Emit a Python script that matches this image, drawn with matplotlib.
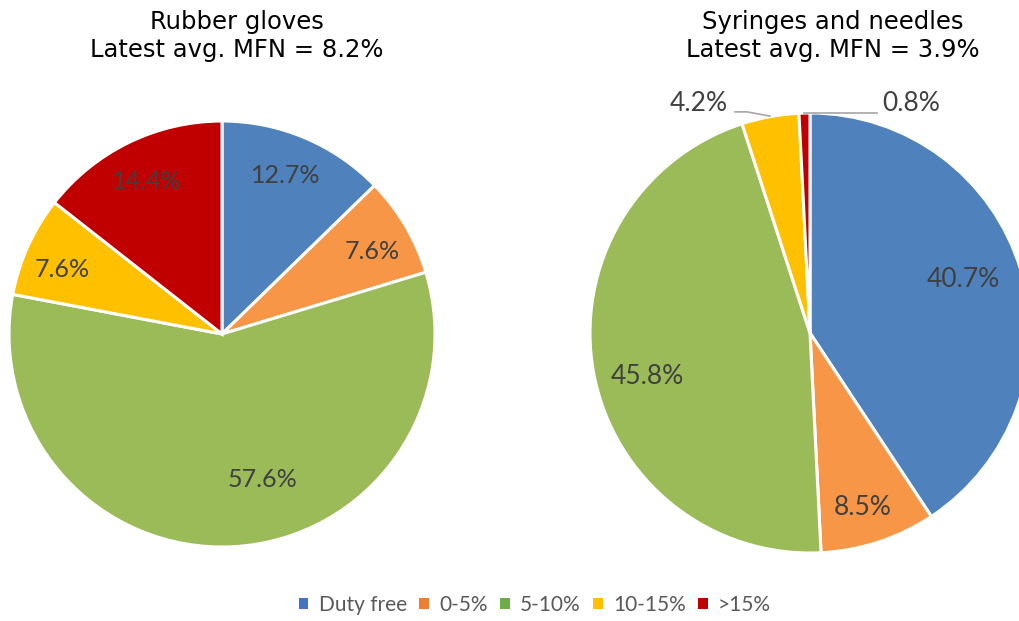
import matplotlib.pyplot as plt
from matplotlib.patches import Patch

categories = ['Duty free', '0-5%', '5-10%', '10-15%', '>15%']
gloves = [12.7, 7.6, 57.6, 7.6, 14.4]
syringes = [40.7, 8.5, 45.8, 4.2, 0.8]
titles = ['Rubber gloves\nLatest avg. MFN = 8.2%',
          'Syringes and needles\nLatest avg. MFN = 3.9%']

pie_colors = ['#4F81BD', '#F79646', '#9BBB59', '#FFC000', '#C00000']
legend_colors = ['#4472C4', '#ED7D31', '#70AD47', '#FFC000', '#C00000']
label_font = 'Lato'
text_gray = '#404040'

# label positions (in units of pie radius), as placed in the original
gloves_pos = [(0.300, 0.745), (0.706, 0.387), (0.188, -0.685), (-0.751, 0.305), (-0.353, 0.714)]
syringes_pos = [(0.698, 0.243), (0.241, -0.795), (-0.741, -0.199), (-0.505, 1.045), (0.459, 1.045)]

W, H = 1020, 621
fig = plt.figure(figsize=(W / 100, H / 100), dpi=100)


def px_axes(cx, cy, r):
    return fig.add_axes([(cx - r) / W, (H - cy - r) / H, 2 * r / W, 2 * r / H])


def draw_pie(ax, values, positions, fsize):
    ax.pie(values, colors=pie_colors, startangle=90, counterclock=False,
           wedgeprops=dict(edgecolor='white', linewidth=2.2))
    ax.set_xlim(-1, 1)
    ax.set_ylim(-1, 1)
    ax.set_aspect('equal')
    ax.axis('off')
    for v, (x, y) in zip(values, positions):
        ax.text(x, y, f'{v:.1f}%', ha='center', va='center', fontsize=fsize,
                family=label_font, color=text_gray, clip_on=False)


ax1 = px_axes(222, 334, 213)
draw_pie(ax1, gloves, gloves_pos, 18)
ax2 = px_axes(810, 333, 220)
draw_pie(ax2, syringes, syringes_pos, 19)
for p in ax2.patches:
    p.set_clip_on(False)

# leader lines for the small slices
ax2.plot([-0.341, -0.286, -0.182], [1.005, 1.005, 0.986], color='#A6A6A6', lw=1.2, clip_on=False)
ax2.plot([-0.027, 0.305], [1.0, 1.0], color='#A6A6A6', lw=1.2, clip_on=False)

fig.text(237 / W, 1 - 36 / H, titles[0], ha='center', va='center', fontsize=17.5,
         family='DejaVu Sans', linespacing=1.2)
fig.text(833 / W, 1 - 36 / H, titles[1], ha='center', va='center', fontsize=17.5,
         family='DejaVu Sans', linespacing=1.2)

handles = [Patch(facecolor=c, edgecolor='none') for c in legend_colors]
fig.legend(handles, categories, loc='center', bbox_to_anchor=(535 / W, 1 - 605 / H),
           ncol=5, frameon=False, prop={'family': label_font, 'size': 15},
           labelcolor='#595959', handlelength=0.45, handleheight=0.45,
           handletextpad=0.5, columnspacing=0.6)

fig.savefig('out.png', dpi=100)
